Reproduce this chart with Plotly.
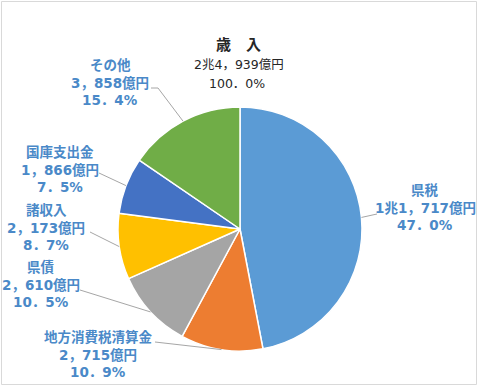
import math
import plotly.graph_objects as go

# data
categories = ["県税", "地方消費税清算金", "県債", "諸収入", "国庫支出金", "その他"]
values = [11717, 2715, 2610, 2173, 1866, 3858]
value_labels = ["1兆1，717億円", "2，715億円", "2，610億円", "2，173億円", "1，866億円", "3，858億円"]
pct_labels = ["47．0%", "10．9%", "10．5%", "8．7%", "7．5%", "15．4%"]
total_label = "2兆4，939億円"
total_pct = "100．0%"
title_text = "歳　入"

colors = ["#5B9BD5", "#ED7D31", "#A5A5A5", "#FFC000", "#4472C4", "#70AD47"]

W, H = 480, 386
CX, CY, R = 240, 229, 122

# label layout (pixels): centre x, y of first line; line spacing
label_pos = [(425, 190), (98, 337), (41, 267), (46, 210), (60, 152), (110, 65)]
LINE = 17.5
leader_start = [(377, 214), (155, 342), (80, 290), (90, 232), (99, 173), (151, 88)]
leader_knee = [(377, 214), (155, 342), (80, 290), (90, 232), (99, 173), (158, 88)]

FONT = "DejaVu Sans, Noto Sans CJK JP"


def px(x):
    return x / W


def py(y):
    return 1 - y / H


fig = go.Figure()
fig.add_trace(go.Pie(
    labels=categories, values=values, sort=False, direction="clockwise",
    rotation=0, marker=dict(colors=colors, line=dict(color="white", width=1.5)),
    textinfo="none", hoverinfo="label+value+percent", showlegend=False,
    domain=dict(x=[px(CX - R), px(CX + R)], y=[py(CY + R), py(CY - R)]),
))

total = sum(values)
cum = 0
annotations = []
shapes = []
lab_color = "#4A89C8"


def add_text(x, y, text, size, color, weight="normal"):
    annotations.append(dict(
        x=px(x), y=py(y), xref="paper", yref="paper", showarrow=False,
        text=text, font=dict(family=FONT, size=size, color=color, weight=weight),
        xanchor="center", yanchor="middle",
    ))


for i, v in enumerate(values):
    mid = (cum + v / 2) / total
    cum += v
    ang = 2 * math.pi * mid
    ex = CX + R * math.sin(ang)
    ey = CY - R * math.cos(ang)
    sx, sy = leader_start[i]
    kx, ky = leader_knee[i]
    path = f"M {px(sx)} {py(sy)} L {px(kx)} {py(ky)} L {px(ex)} {py(ey)}"
    shapes.append(dict(type="path", xref="paper", yref="paper", path=path,
                       line=dict(color="#A6A6A6", width=1)))
    lx, ly = label_pos[i]
    for j, t in enumerate([categories[i], value_labels[i], pct_labels[i]]):
        add_text(lx, ly + j * LINE, t, 13.5, lab_color, "bold")

add_text(238, 45, title_text, 15, "#262626", "bold")
add_text(239, 65, total_label, 12.5, "#262626")
add_text(237, 83, total_pct, 12.5, "#262626")

shapes.append(dict(type="rect", xref="paper", yref="paper",
                   x0=px(1.5), y0=py(384.5), x1=px(476.5), y1=py(1.5),
                   line=dict(color="#D9D9D9", width=1)))

fig.update_layout(
    width=W, height=H, margin=dict(l=0, r=0, t=0, b=0),
    paper_bgcolor="white", plot_bgcolor="white",
    annotations=annotations, shapes=shapes,
)
fig.write_html("out.html")
